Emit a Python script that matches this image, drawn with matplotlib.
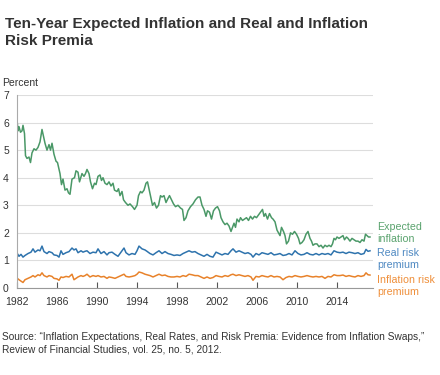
import matplotlib
matplotlib.use('Agg')
from matplotlib import pyplot as plt

plt.rcParams['font.family'] = ['Liberation Sans', 'DejaVu Sans']

# values (decimal year, percent)
exp_years = [1982.0, 1982.1, 1982.2, 1982.35, 1982.5, 1982.6, 1982.75, 1982.85, 1983.0, 1983.2,
             1983.35, 1983.5, 1983.7, 1983.9, 1984.1, 1984.3, 1984.5, 1984.65, 1984.8, 1985.0,
             1985.2, 1985.35, 1985.5, 1985.7, 1985.9, 1986.05, 1986.2, 1986.3, 1986.45, 1986.6,
             1986.8, 1987.0, 1987.15, 1987.3, 1987.5, 1987.75, 1987.9, 1988.1, 1988.25, 1988.5,
             1988.7, 1988.85, 1989.0, 1989.2, 1989.35, 1989.55, 1989.75, 1989.9, 1990.1, 1990.3,
             1990.45, 1990.6, 1990.8, 1991.0, 1991.2, 1991.4, 1991.6, 1991.75, 1992.0, 1992.15,
             1992.3, 1992.5, 1992.65, 1992.85, 1993.1, 1993.3, 1993.55, 1993.75, 1994.0, 1994.15,
             1994.35, 1994.5, 1994.7, 1994.9, 1995.05, 1995.2, 1995.35, 1995.55, 1995.75, 1995.95,
             1996.15, 1996.35, 1996.5, 1996.7, 1996.9, 1997.1, 1997.25, 1997.45, 1997.65, 1997.85,
             1998.1, 1998.35, 1998.55, 1998.7, 1998.9, 1999.1, 1999.35, 1999.6, 1999.85, 2000.1,
             2000.3, 2000.5, 2000.7, 2000.9, 2001.05, 2001.25, 2001.45, 2001.65, 2001.85, 2002.05,
             2002.25, 2002.4, 2002.6, 2002.8, 2003.0, 2003.2, 2003.4, 2003.55, 2003.7, 2003.85,
             2004.0, 2004.2, 2004.35, 2004.55, 2004.75, 2004.95, 2005.15, 2005.35, 2005.55, 2005.75,
             2005.95, 2006.15, 2006.35, 2006.55, 2006.7, 2006.85, 2007.05, 2007.25, 2007.45, 2007.6,
             2007.8, 2008.0, 2008.15, 2008.3, 2008.45, 2008.65, 2008.8, 2008.95, 2009.15, 2009.35,
             2009.55, 2009.75, 2009.95, 2010.15, 2010.3, 2010.5, 2010.7, 2010.9, 2011.1, 2011.3,
             2011.45, 2011.6, 2011.8, 2012.0, 2012.2, 2012.4, 2012.6, 2012.8, 2013.0, 2013.2,
             2013.4, 2013.55, 2013.7, 2013.85, 2014.0, 2014.2, 2014.4, 2014.6, 2014.75, 2014.95,
             2015.1, 2015.3, 2015.5, 2015.7, 2015.9, 2016.1, 2016.3, 2016.5, 2016.7, 2016.85,
             2017.0, 2017.15, 2017.3]
expected = [6.1, 5.7, 5.85, 5.65, 5.7, 5.9, 5.6, 4.8, 4.7, 4.75,
            4.55, 4.9, 5.05, 5.0, 5.1, 5.3, 5.75, 5.5, 5.25, 5.0,
            5.2, 5.0, 5.25, 4.85, 4.6, 4.55, 4.3, 4.15, 3.75, 3.95,
            3.55, 3.6, 3.45, 3.4, 3.95, 4.0, 4.25, 4.2, 3.85, 4.15,
            4.05, 4.15, 4.3, 4.15, 3.85, 3.6, 3.8, 3.75, 4.05, 4.1,
            3.9, 4.0, 3.8, 3.75, 3.85, 3.7, 3.8, 3.55, 3.5, 3.6,
            3.35, 3.5, 3.2, 3.1, 3.0, 3.05, 2.95, 2.85, 3.0, 3.35,
            3.5, 3.45, 3.55, 3.8, 3.85, 3.6, 3.35, 3.0, 3.1, 2.9,
            3.0, 3.35, 3.3, 3.35, 3.1, 3.25, 3.35, 3.2, 3.05, 2.95,
            3.0, 2.9, 2.85, 2.45, 2.55, 2.8, 2.95, 3.05, 3.2, 3.3,
            3.3, 3.0, 2.85, 2.6, 2.8, 2.75, 2.5, 2.8, 2.9, 2.95,
            2.8, 2.55, 2.4, 2.3, 2.35, 2.25, 2.05, 2.2, 2.35, 2.2,
            2.5, 2.4, 2.55, 2.45, 2.5, 2.55, 2.45, 2.6, 2.5, 2.6,
            2.55, 2.65, 2.75, 2.85, 2.6, 2.7, 2.5, 2.7, 2.55, 2.5,
            2.4, 2.1, 2.0, 1.9, 2.2, 2.05, 1.9, 1.6, 1.7, 2.0,
            1.95, 2.05, 1.95, 1.8, 1.6, 1.65, 1.75, 1.95, 2.05, 1.8,
            1.7, 1.55, 1.6, 1.6, 1.5, 1.55, 1.45, 1.55, 1.5, 1.55,
            1.5, 1.6, 1.8, 1.75, 1.85, 1.8, 1.85, 1.9, 1.75, 1.85,
            1.8, 1.7, 1.8, 1.75, 1.7, 1.7, 1.65, 1.75, 1.7, 1.95,
            1.9, 1.85, 1.85]

prem_years = [1982.0, 1982.2, 1982.4, 1982.6, 1982.8, 1983.1, 1983.4, 1983.6, 1983.8, 1984.1,
              1984.3, 1984.5, 1984.7, 1985.0, 1985.2, 1985.5, 1985.7, 1986.0, 1986.2, 1986.4,
              1986.6, 1986.9, 1987.2, 1987.5, 1987.7, 1987.9, 1988.1, 1988.4, 1988.6, 1988.8,
              1989.0, 1989.3, 1989.6, 1989.9, 1990.1, 1990.4, 1990.7, 1991.0, 1991.2, 1991.5,
              1991.8, 1992.1, 1992.4, 1992.7, 1992.9, 1993.2, 1993.5, 1993.8, 1994.0, 1994.2,
              1994.5, 1994.8, 1995.0, 1995.3, 1995.6, 1995.9, 1996.2, 1996.5, 1996.8, 1997.1,
              1997.4, 1997.7, 1998.0, 1998.3, 1998.6, 1998.9, 1999.2, 1999.5, 1999.8, 2000.1,
              2000.4, 2000.7, 2001.0, 2001.3, 2001.6, 2001.9, 2002.2, 2002.5, 2002.8, 2003.1,
              2003.4, 2003.6, 2003.9, 2004.2, 2004.5, 2004.8, 2005.1, 2005.4, 2005.6, 2005.9,
              2006.2, 2006.5, 2006.8, 2007.1, 2007.4, 2007.7, 2008.0, 2008.3, 2008.6, 2008.9,
              2009.2, 2009.5, 2009.8, 2010.1, 2010.4, 2010.7, 2011.0, 2011.3, 2011.6, 2011.9,
              2012.2, 2012.5, 2012.8, 2013.1, 2013.4, 2013.7, 2014.0, 2014.3, 2014.6, 2014.9,
              2015.2, 2015.5, 2015.8, 2016.1, 2016.4, 2016.7, 2016.9, 2017.1, 2017.3]
real_premium = [1.27, 1.15, 1.22, 1.12, 1.18, 1.25, 1.3, 1.42, 1.3, 1.38,
                1.35, 1.52, 1.32, 1.25, 1.32, 1.28, 1.2, 1.18, 1.12, 1.35,
                1.22, 1.28, 1.32, 1.45, 1.38, 1.42, 1.28, 1.35, 1.3, 1.33,
                1.35, 1.25, 1.3, 1.28, 1.42, 1.25, 1.32, 1.2, 1.28, 1.3,
                1.22, 1.15, 1.3, 1.45, 1.28, 1.2, 1.25, 1.22, 1.35, 1.52,
                1.42, 1.38, 1.33, 1.25, 1.2, 1.28, 1.35, 1.25, 1.32, 1.25,
                1.22, 1.18, 1.2, 1.18, 1.25, 1.3, 1.35, 1.3, 1.32, 1.25,
                1.2, 1.15, 1.22, 1.15, 1.12, 1.3, 1.25, 1.2, 1.25, 1.22,
                1.35, 1.42, 1.3, 1.35, 1.3, 1.25, 1.28, 1.22, 1.12, 1.25,
                1.2, 1.28, 1.25, 1.22, 1.28, 1.2, 1.22, 1.25, 1.18, 1.2,
                1.25, 1.2, 1.35, 1.25, 1.2, 1.22, 1.28, 1.22, 1.2, 1.25,
                1.2, 1.25, 1.22, 1.25, 1.2, 1.35, 1.3, 1.28, 1.3, 1.25,
                1.3, 1.28, 1.25, 1.28, 1.22, 1.25, 1.4, 1.33, 1.35]
infl_premium = [0.36, 0.3, 0.25, 0.2, 0.3, 0.35, 0.4, 0.45, 0.4, 0.48,
                0.45, 0.55, 0.45, 0.4, 0.45, 0.42, 0.35, 0.33, 0.28, 0.4,
                0.38, 0.42, 0.4, 0.5, 0.3, 0.35, 0.4, 0.45, 0.42, 0.45,
                0.5, 0.4, 0.45, 0.42, 0.45, 0.4, 0.42, 0.35, 0.4, 0.38,
                0.35, 0.4, 0.45, 0.5, 0.42, 0.4, 0.42, 0.45, 0.5, 0.58,
                0.55, 0.5, 0.48, 0.45, 0.4, 0.45, 0.5, 0.45, 0.47, 0.42,
                0.4, 0.4, 0.42, 0.4, 0.45, 0.42, 0.5, 0.48, 0.45, 0.45,
                0.4, 0.35, 0.4, 0.35, 0.38, 0.45, 0.42, 0.4, 0.45, 0.42,
                0.48, 0.5, 0.45, 0.48, 0.45, 0.42, 0.45, 0.4, 0.28, 0.42,
                0.4, 0.45, 0.42, 0.4, 0.45, 0.4, 0.42, 0.4, 0.3, 0.38,
                0.42, 0.4, 0.45, 0.42, 0.4, 0.42, 0.45, 0.42, 0.4, 0.42,
                0.4, 0.42, 0.35, 0.42, 0.4, 0.48, 0.45, 0.45, 0.47, 0.42,
                0.45, 0.42, 0.4, 0.45, 0.42, 0.45, 0.55, 0.48, 0.47]

year_ticks = [1982, 1986, 1990, 1994, 1998, 2002, 2006, 2010, 2014]
pct_ticks = [0, 1, 2, 3, 4, 5, 6, 7]

green, blue, orange = "#4a9867", "#2e73ad", "#e8822a"
txt = "#333333"

fig = plt.figure(figsize=(4.4, 3.75), dpi=100)
ax = fig.add_axes([17/440, 1 - 288/375, 355.5/440, 193/375])

ax.plot(exp_years, expected, color=green, lw=1.1)
ax.plot(prem_years, real_premium, color=blue, lw=1.1)
ax.plot(prem_years, infl_premium, color=orange, lw=1.1)

ax.set_xlim(1982, 2017.55)
ax.set_ylim(0, 7)
ax.set_xticks(year_ticks)
ax.set_yticks(pct_ticks)
ax.tick_params(axis='x', direction='in', length=4, color="#555555", labelsize=7.5,
               labelcolor=txt, pad=6.5)
ax.tick_params(axis='y', length=0, labelsize=7.5, labelcolor=txt, pad=10)
for lab in ax.get_yticklabels():
    lab.set_horizontalalignment('left')
ax.grid(True, axis='y', color="#dddddd", lw=0.8)
ax.set_axisbelow(True)
for s in ['top', 'right']:
    ax.spines[s].set_visible(False)
ax.spines['left'].set_color("#aaaaaa")
ax.spines['bottom'].set_color("#999999")
ax.spines['left'].set_linewidth(0.8)
ax.spines['bottom'].set_linewidth(0.8)

fig.text(5/440, 1 - 17/375, "Ten-Year Expected Inflation and Real and Inflation\nRisk Premia",
         fontsize=11, fontweight='bold', color=txt, va='top', ha='left', linespacing=1.3)
fig.text(2/440, 1 - 86/375, "Percent", fontsize=7.5, color=txt, va='baseline')

fig.text(377/440, 1 - 233/375, "Expected\ninflation", fontsize=7.7, color="#5aa36e",
         va='center', linespacing=1.2)
fig.text(377/440, 1 - 259/375, "Real risk\npremium", fontsize=7.7, color="#4f89c2",
         va='center', linespacing=1.2)
fig.text(377/440, 1 - 286/375, "Inflation risk\npremium", fontsize=7.7, color="#ef8f3a",
         va='center', linespacing=1.2)

fig.text(2/440, 1 - 332/375,
         "Source: \u201cInflation Expectations, Real Rates, and Risk Premia: Evidence from Inflation Swaps,\u201d\n"
         "Review of Financial Studies, vol. 25, no. 5, 2012.",
         fontsize=7.3, color=txt, va='top', linespacing=1.35)

fig.savefig("out.png", dpi=100)
